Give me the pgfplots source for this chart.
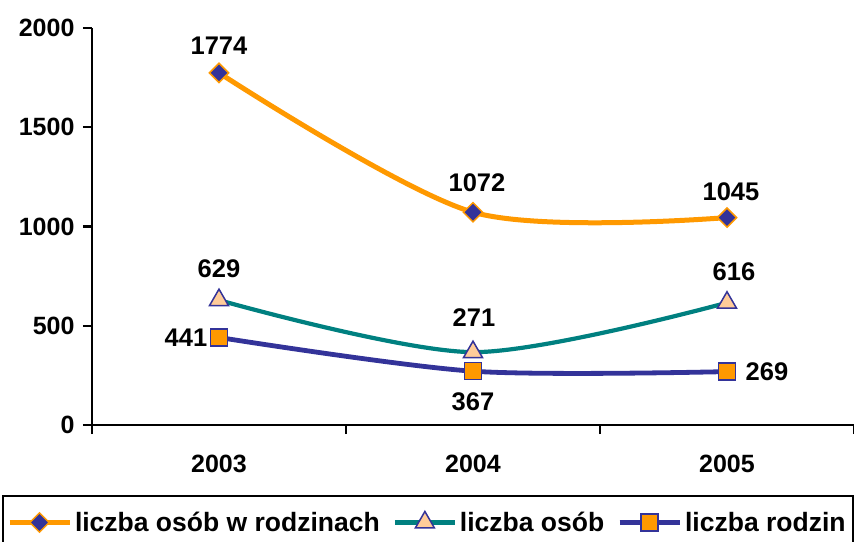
\documentclass[border=0pt]{standalone}
\usepackage{fontspec}
\setmainfont{Liberation Sans}
\usepackage{pgfplots}
\pgfplotsset{compat=1.18}
\definecolor{cOrange}{HTML}{FF9900}
\definecolor{cNavy}{HTML}{333399}
\definecolor{cTeal}{HTML}{008080}
\definecolor{cPeach}{HTML}{FFCC99}

\pgfplotstableread{
x y lab dx dy
0 1774 1774 0 27
1 1072 1072 4 29
2 1045 1045 4 26
}\tabA
\pgfplotstableread{
x y lab dx dy
0 629 629 0 31
1 367 271 1 35
2 616 616 7 31
}\tabB
\pgfplotstableread{
x y lab dx dy
0 441 441 -33 0
1 271 367 0 -31
2 269 269 40 0
}\tabC

\pgfplotsset{labels/.style={forget plot, draw=none, mark=none,
 point meta=explicit symbolic,
 visualization depends on={\thisrow{dx} \as \dx},
 visualization depends on={\thisrow{dy} \as \dy},
 nodes near coords,
 nodes near coords style={anchor=center, xshift=\dx pt, yshift=\dy pt, text=black, font=\fontsize{25.5}{30}\selectfont\bfseries}}}

\begin{document}
\begin{tikzpicture}
\useasboundingbox (-92pt,-116pt) rectangle (762pt,425pt);
\begin{axis}[
 at={(0pt,0pt)}, anchor=south west,
 scale only axis, width=762pt, height=397pt,
 xmin=-0.5, xmax=2.5, ymin=0, ymax=2000,
 axis x line*=bottom, axis y line*=left,
 axis line style={line width=2.2pt, black},
 xtick={-0.5,0.5,1.5,2.5}, xticklabels={},
 extra x ticks={0,1,2}, extra x tick labels={2003,2004,2005},
 extra x tick style={major tick length=0pt, xticklabel style={yshift=-27pt}},
 ytick={0,500,1000,1500,2000},
 yticklabel style={xshift=-5pt},
 tick align=outside, major tick length=9pt,
 tick style={line width=2.2pt, black},
 ticklabel style={font=\fontsize{25}{30}\selectfont\bfseries},
 /pgf/number format/assume math mode=true,
 /pgf/number format/set thousands separator={},
 clip=false,
 legend columns=3,
 legend style={at={(axis description cs:-0.1181,-0.1763)}, anchor=north west,
   draw=black, line width=2pt, inner xsep=4pt, inner ysep=13pt,
   font=\fontsize{26.5}{31}\selectfont\bfseries,
   nodes={inner sep=3pt, text=black},
   /tikz/every even column/.append style={column sep=10pt}},
 legend image code/.code={
   \draw[#1, mark=none] (0pt,0pt) -- (60pt,0pt);
   \draw[#1, sharp plot] plot coordinates {(30pt,0pt)};
 },
]
\addplot[color=cOrange, line width=5pt, smooth, mark=square*, mark size=6.8pt,
  mark options={rotate=45, fill=cNavy, draw=cOrange, line width=1.5pt}]
  table[x=x, y=y] {\tabA};
\addlegendentry{liczba osób w rodzinach}
\addplot[color=cTeal, line width=4.2pt, smooth, mark=triangle*, mark size=11pt,
  mark options={fill=cPeach, draw=cNavy, line width=1.5pt}]
  table[x=x, y=y] {\tabB};
\addlegendentry{liczba osób}
\addplot[color=cNavy, line width=4.8pt, smooth, mark=square*, mark size=8.5pt,
  mark options={fill=cOrange, draw=cNavy, line width=1.5pt}]
  table[x=x, y=y] {\tabC};
\addlegendentry{liczba rodzin}
\addplot[labels] table[x=x, y=y, meta=lab] {\tabA};
\addplot[labels] table[x=x, y=y, meta=lab] {\tabB};
\addplot[labels] table[x=x, y=y, meta=lab] {\tabC};
\end{axis}
\end{tikzpicture}
\end{document}
